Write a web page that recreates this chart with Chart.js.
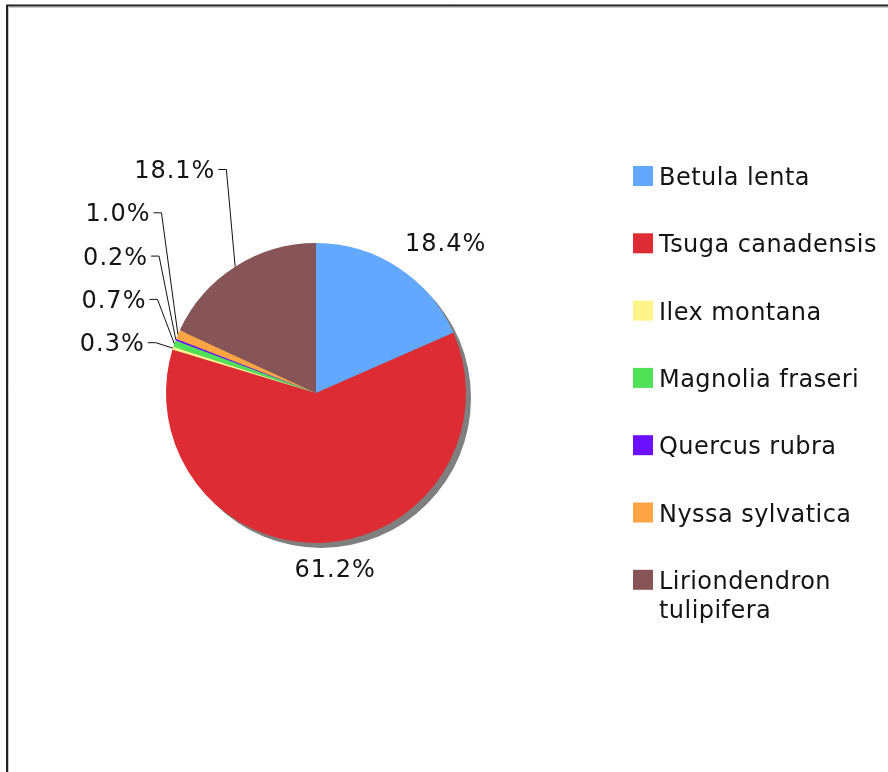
<!DOCTYPE html>
<html><head><meta charset="utf-8">
<script src="https://cdn.jsdelivr.net/npm/chart.js@4/dist/chart.umd.min.js"></script>
<style>html,body{margin:0;padding:0;background:#fff;} canvas{display:block;}</style>
</head><body>
<canvas id="c" width="888" height="772"></canvas>
<script>
// ---- data ----
const species = ['Betula lenta','Tsuga canadensis','Ilex montana','Magnolia fraseri','Quercus rubra','Nyssa sylvatica','Liriondendron tulipifera'];
const shares = [18.4, 61.2, 0.3, 0.7, 0.2, 1.0, 18.1];
const colors = ['#62A8FF','#DD2C33','#FFF38A','#4FE257','#6A10FF','#FFA544','#875558'];

const FONT = '24px "DejaVu Sans", Verdana, sans-serif';
const TEXT = '#141414';

const framePlugin = {
  id: 'frame',
  afterDraw(chart) {
    const ctx = chart.ctx;
    ctx.save();
    ctx.strokeStyle = '#222'; ctx.lineWidth = 2;
    ctx.beginPath(); ctx.moveTo(7, 772); ctx.lineTo(7, 5.5); ctx.lineTo(888, 5.5); ctx.stroke();
    ctx.strokeStyle = '#c8c8c8'; ctx.lineWidth = 1;
    ctx.beginPath(); ctx.moveTo(8.5, 772); ctx.lineTo(8.5, 7.5); ctx.lineTo(888, 7.5); ctx.stroke();
    ctx.restore();
  }
};

const shadowPlugin = {
  id: 'shadow',
  beforeDatasetsDraw(chart) {
    const arc = chart.getDatasetMeta(0).data[0];
    if (!arc) return;
    const ctx = chart.ctx;
    ctx.save();
    ctx.fillStyle = '#7f7f7f';
    ctx.beginPath();
    ctx.arc(arc.x + 5, arc.y + 5, arc.outerRadius, 0, Math.PI * 2);
    ctx.fill();
    ctx.restore();
  }
};

const labelPlugin = {
  id: 'pieLabels',
  afterDatasetsDraw(chart) {
    const ctx = chart.ctx;
    const meta = chart.getDatasetMeta(0);
    const vals = chart.data.datasets[0].data;
    ctx.save();
    ctx.font = FONT;
    ctx.letterSpacing = '1px';
    ctx.fillStyle = TEXT;
    ctx.strokeStyle = '#111';
    ctx.lineWidth = 1;
    const items = meta.data.map((arc, i) => {
      const mid = (arc.startAngle + arc.endAngle) / 2; // canvas angle
      const R = arc.outerRadius + 20;
      return {
        i, mid, r: arc.outerRadius, cx: arc.x, cy: arc.y,
        ax: arc.x + Math.cos(mid) * R, ay: arc.y + Math.sin(mid) * R,
        ex: arc.x + Math.cos(mid) * arc.outerRadius, ey: arc.y + Math.sin(mid) * arc.outerRadius,
        text: vals[i].toFixed(1) + '%'
      };
    });
    const left = items.filter(o => o.ax < o.cx - 1).sort((a, b) => b.ay - a.ay);
    const right = items.filter(o => o.ax >= o.cx - 1);
    const GAP = 43.3;
    let prev = null;
    left.forEach(o => {
      let ty = o.ay;
      if (prev !== null && ty > prev - GAP) ty = prev - GAP;
      prev = ty;
      const xr = o.ax - 10;
      ctx.textAlign = 'right';
      ctx.textBaseline = 'alphabetic';
      ctx.fillText(o.text, xr + 1, ty + 9);
      ctx.beginPath();
      ctx.moveTo(xr + 4, ty + 0.5);
      ctx.lineTo(xr + 12, ty + 0.5);
      ctx.lineTo(o.ex, o.ey);
      ctx.stroke();
    });
    right.forEach(o => {
      ctx.textBaseline = 'alphabetic';
      if (o.ay > o.cy + o.r * 0.9) {
        ctx.textAlign = 'center';
        ctx.fillText(o.text, o.ax + 9, o.ay + 14);
      } else {
        ctx.textAlign = 'left';
        ctx.fillText(o.text, o.ax - 4, o.ay);
      }
    });
    ctx.restore();
  }
};

const legendPlugin = {
  id: 'sideLegend',
  afterDraw(chart) {
    const ctx = chart.ctx;
    const labels = chart.data.labels;
    const bg = chart.data.datasets[0].backgroundColor;
    ctx.save();
    ctx.font = FONT;
    ctx.letterSpacing = '0.45px';
    ctx.textAlign = 'left';
    ctx.textBaseline = 'alphabetic';
    const x0 = 633, top0 = 166, step = 67.3, box = 20, tx = 659, maxW = 226, lh = 29;
    labels.forEach((lab, i) => {
      const y = top0 + i * step;
      ctx.fillStyle = bg[i];
      ctx.fillRect(x0, y, box, box);
      ctx.fillStyle = TEXT;
      const words = lab.split(' ');
      const lines = [];
      let cur = '';
      words.forEach(w => {
        const t = cur ? cur + ' ' + w : w;
        if (cur && ctx.measureText(t).width > maxW) { lines.push(cur); cur = w; } else cur = t;
      });
      lines.push(cur);
      lines.forEach((ln, k) => ctx.fillText(ln, tx, y + 19 + k * lh));
    });
    ctx.restore();
  }
};

new Chart(document.getElementById('c'), {
  type: 'pie',
  data: {
    labels: species,
    datasets: [{ data: shares, backgroundColor: colors, borderWidth: 0 }]
  },
  options: {
    responsive: false,
    animation: false,
    layout: { padding: { left: 166, right: 422, top: 243, bottom: 229 } },
    plugins: { legend: { display: false }, tooltip: { enabled: false } }
  },
  plugins: [shadowPlugin, labelPlugin, legendPlugin, framePlugin]
});
</script>
</body></html>
